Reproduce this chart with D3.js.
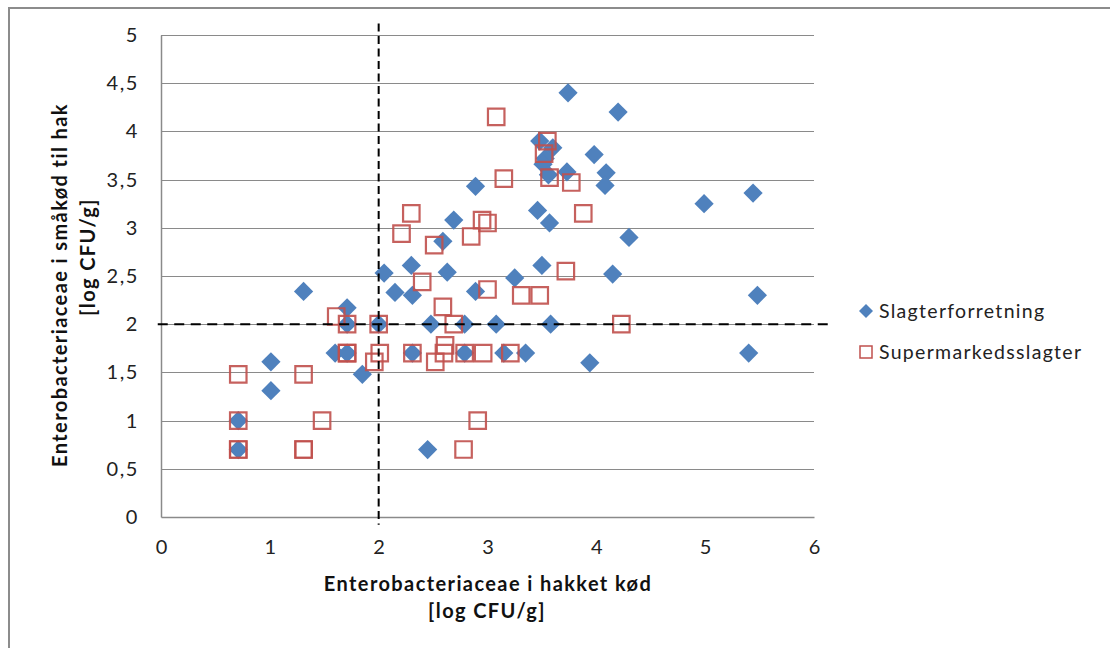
<!DOCTYPE html>
<html>
<head>
<meta charset="utf-8">
<script src="https://cdn.jsdelivr.net/npm/d3@7"></script>
<style>
  html, body { margin: 0; padding: 0; background: #fff; }
  svg { display: block; font-family: Lato, "Open Sans", sans-serif; }
</style>
</head>
<body>
<svg id="chart" width="1110" height="648"></svg>
<script>
// Slagterforretning (butcher shops): [hakket kød, småkød til hak], log CFU/g
const slagterX = [0.71, 0.71, 1.01, 1.01, 1.31, 1.71, 1.71, 1.60, 1.71, 1.85,
  2.00, 2.05, 2.15, 2.31, 2.30, 2.31, 2.48, 2.45, 2.59, 2.63,
  2.69, 2.79, 2.79, 2.89, 2.89, 3.08, 3.15, 3.25, 3.35, 3.46,
  3.50, 3.57, 3.58, 3.48, 3.60, 3.53, 3.51, 3.56, 3.73, 3.74,
  3.94, 3.98, 4.09, 4.08, 4.15, 4.20, 4.30, 4.99, 5.44, 5.48, 5.40];
const slagterY = [1.00, 0.70, 1.61, 1.31, 2.34, 2.17, 2.00, 1.70, 1.70, 1.48,
  2.00, 2.53, 2.33, 2.30, 2.61, 1.70, 2.00, 0.70, 2.86, 2.54,
  3.08, 2.00, 1.70, 3.43, 2.34, 2.00, 1.70, 2.48, 1.70, 3.18,
  2.61, 3.05, 2.00, 3.90, 3.83, 3.72, 3.66, 3.55, 3.58, 4.40,
  1.60, 3.76, 3.57, 3.44, 2.52, 4.20, 2.90, 3.25, 3.36, 2.30, 1.70];

// Supermarkedsslagter (supermarket butchers)
const superX = [0.71, 0.71, 0.71, 0.71, 1.31, 1.31, 1.31, 1.48, 1.61, 1.71,
  1.71, 1.71, 2.00, 2.01, 1.96, 2.21, 2.30, 2.31, 2.40, 2.51,
  2.52, 2.59, 2.61, 2.60, 2.69, 2.78, 2.79, 2.85, 2.91, 2.95,
  3.00, 2.96, 3.00, 3.08, 3.15, 3.21, 3.31, 3.48, 3.55, 3.52,
  3.57, 3.72, 3.77, 3.88, 4.23];
const superY = [1.48, 1.00, 0.70, 0.70, 1.48, 0.70, 0.70, 1.00, 2.08, 2.00,
  1.70, 1.70, 2.00, 1.70, 1.61, 2.94, 3.15, 1.70, 2.44, 2.82,
  1.61, 2.18, 1.78, 1.70, 2.00, 0.70, 1.70, 2.91, 1.00, 3.08,
  3.05, 1.70, 2.36, 4.15, 3.51, 1.70, 2.30, 2.30, 3.90, 3.77,
  3.52, 2.55, 3.47, 3.15, 2.00];

const seriesNames = ["Slagterforretning", "Supermarkedsslagter"];
const xTicks = [0, 1, 2, 3, 4, 5, 6];
const xTickLabels = ["0", "1", "2", "3", "4", "5", "6"];
const yTicks = [0, 0.5, 1, 1.5, 2, 2.5, 3, 3.5, 4, 4.5, 5];
const yTickLabels = ["0", "0,5", "1", "1,5", "2", "2,5", "3", "3,5", "4", "4,5", "5"];
const limitX = 2;   // reference line, hakket kød
const limitY = 2;   // reference line, småkød

const xTitle = ["Enterobacteriaceae i hakket kød", "[log CFU/g]"];
const yTitle = ["Enterobacteriaceae i småkød til hak", "[log CFU/g]"];

const blue = "#4F81BD", red = "#C0504D", grid = "#8a8a8a";

const svg = d3.select("#chart");

// outer chart frame
svg.append("rect")
  .attr("x", 9).attr("y", 8).attr("width", 1130).attr("height", 670)
  .attr("fill", "#fff").attr("stroke", "#8c8c8c").attr("stroke-width", 2);

const x = d3.scaleLinear().domain([0, 6]).range([161, 814]);
const y = d3.scaleLinear().domain([0, 5]).range([517, 35]);

// horizontal gridlines
svg.append("g").selectAll("line").data(yTicks.slice(1)).join("line")
  .attr("x1", x(0)).attr("x2", x(6))
  .attr("y1", d => Math.round(y(d)) + 0.5).attr("y2", d => Math.round(y(d)) + 0.5)
  .attr("stroke", grid).attr("stroke-width", 1);

// y axis
const yAxis = svg.append("g").attr("transform", `translate(${x(0)},0)`)
  .call(d3.axisLeft(y).tickValues(yTicks).tickSize(0).tickPadding(22)
    .tickFormat((d, i) => yTickLabels[i]));
yAxis.select(".domain").attr("stroke", grid).attr("stroke-width", 1.5);
yAxis.selectAll("text").attr("font-size", 20).attr("fill", "#222")
  .attr("letter-spacing", 1.6).attr("font-family", "Lato, sans-serif");

// x axis
const xAxis = svg.append("g").attr("transform", `translate(0,${y(0)})`)
  .call(d3.axisBottom(x).tickValues(xTicks).tickSize(0).tickPadding(23)
    .tickFormat((d, i) => xTickLabels[i]));
xAxis.select(".domain").attr("stroke", grid).attr("stroke-width", 1.5);
xAxis.selectAll("text").attr("font-size", 20).attr("fill", "#222")
  .attr("font-family", "Lato, sans-serif");

// axis titles
const xt = svg.append("text").attr("text-anchor", "middle")
  .attr("font-weight", "bold").attr("font-size", 20).attr("fill", "#111")
  .attr("letter-spacing", 1.4);
xt.append("tspan").attr("x", 488).attr("y", 591).text(xTitle[0]);
xt.append("tspan").attr("x", 487).attr("y", 618).text(xTitle[1]);

const yt = svg.append("g").attr("transform", "rotate(-90)")
  .append("text").attr("text-anchor", "middle")
  .attr("font-weight", "bold").attr("font-size", 20).attr("fill", "#111")
  .attr("letter-spacing", 1.4);
yt.append("tspan").attr("x", -285).attr("y", 67).text(yTitle[0]);
yt.append("tspan").attr("x", -257).attr("y", 95).text(yTitle[1]);

// Slagterforretning diamonds
const diamond = d3.symbol(d3.symbolSquare, 185);
svg.append("g").selectAll("path").data(d3.range(slagterX.length)).join("path")
  .attr("d", diamond)
  .attr("transform", i => `translate(${x(slagterX[i])},${y(slagterY[i])}) rotate(45)`)
  .attr("fill", blue);

// Supermarkedsslagter open squares
const square = d3.symbol(d3.symbolSquare, 272);
svg.append("g").selectAll("path").data(d3.range(superX.length)).join("path")
  .attr("d", square)
  .attr("transform", i => `translate(${x(superX[i])},${y(superY[i])})`)
  .attr("fill", "none").attr("stroke", red).attr("stroke-width", 2.2)
  .attr("stroke-opacity", 0.9);

// dashed reference lines
svg.append("line")
  .attr("x1", x(limitX)).attr("x2", x(limitX))
  .attr("y1", y(5.12)).attr("y2", y(-0.08))
  .attr("stroke", "#000").attr("stroke-width", 2).attr("stroke-dasharray", "8,4.5");
svg.append("line")
  .attr("x1", x(-0.03)).attr("x2", x(6.15))
  .attr("y1", y(limitY)).attr("y2", y(limitY))
  .attr("stroke", "#000").attr("stroke-width", 2).attr("stroke-dasharray", "10,6.5");

// legend
const lg = svg.append("g").attr("font-size", 19.5).attr("fill", "#222")
  .attr("letter-spacing", 1.3);
lg.append("path").attr("d", d3.symbol(d3.symbolSquare, 98))
  .attr("transform", "translate(866,311) rotate(45)").attr("fill", blue);
lg.append("text").attr("x", 879).attr("y", 317.5).text(seriesNames[0]);
lg.append("rect").attr("x", 860).attr("y", 346).attr("width", 12).attr("height", 12)
  .attr("fill", "none").attr("stroke", red).attr("stroke-width", 1.5);
lg.append("text").attr("x", 879).attr("y", 358.5).text(seriesNames[1]);
</script>
</body>
</html>
